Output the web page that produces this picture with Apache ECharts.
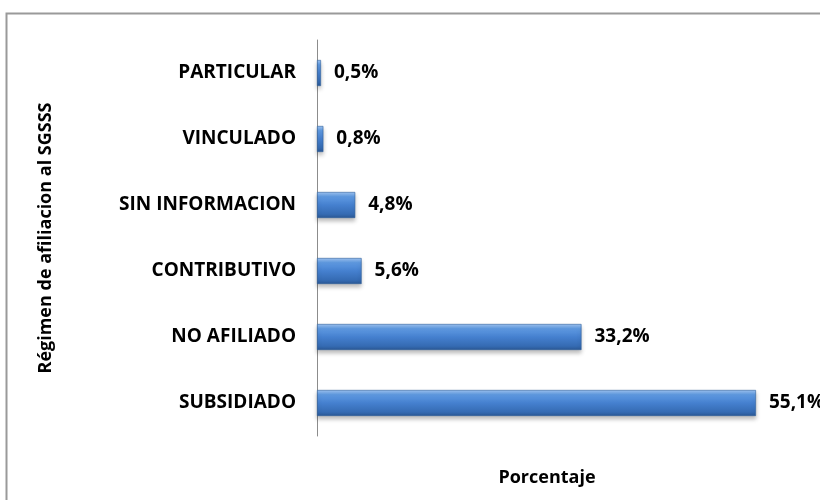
<!DOCTYPE html>
<html>
<head>
<meta charset="utf-8">
<script src="https://cdn.jsdelivr.net/npm/echarts@6/dist/echarts.min.js"></script>
<style>
  html, body { margin: 0; padding: 0; background: #fff; }
  #chart { width: 820px; height: 500px; }
</style>
</head>
<body>
<div id="chart"></div>
<script>
// categorias de abajo hacia arriba
var categorias = ['SUBSIDIADO', 'NO AFILIADO', 'CONTRIBUTIVO', 'SIN INFORMACION', 'VINCULADO', 'PARTICULAR'];
var porcentajes = [55.1, 33.2, 5.6, 4.8, 0.8, 0.5];
var nombreEjeY = 'Régimen de afiliacion al SGSSS';
var nombreEjeX = 'Porcentaje';

var fuente = '"Open Sans", "Noto Sans", sans-serif';

var chart = echarts.init(document.getElementById('chart'));
var option = {
  backgroundColor: '#fff',
  animation: false,
  graphic: [{
    type: 'rect',
    shape: { x: 6.5, y: 13.5, width: 900, height: 600 },
    style: { fill: 'none', stroke: '#9a9a9a', lineWidth: 2 },
    silent: true
  }],
  grid: { left: 317, right: 25, top: 40, bottom: 64 },
  xAxis: {
    type: 'value',
    min: 0,
    max: 60,
    axisLine: { show: false },
    axisTick: { show: false },
    axisLabel: { show: false },
    splitLine: { show: false },
    name: nombreEjeX,
    nameLocation: 'middle',
    nameGap: 33,
    nameTextStyle: { fontFamily: fuente, fontWeight: 'bold', fontSize: 18, color: '#000', padding: [0, 18, 0, 0] }
  },
  yAxis: {
    type: 'category',
    data: categorias,
    axisLine: { show: true, lineStyle: { color: '#8c8c8c', width: 1 } },
    axisTick: { show: false },
    axisLabel: { fontFamily: fuente, fontWeight: 'bold', fontSize: 19, color: '#000', margin: 21 },
    name: nombreEjeY,
    nameLocation: 'middle',
    nameGap: 262,
    nameRotate: 90,
    nameTextStyle: { fontFamily: fuente, fontWeight: 'bold', fontSize: 18, color: '#000' }
  },
  series: [{
    type: 'bar',
    data: porcentajes,
    barWidth: 26,
    itemStyle: {
      color: new echarts.graphic.LinearGradient(0, 0, 0, 1, [
        { offset: 0, color: '#9fc5f2' },
        { offset: 0.18, color: '#5f9ae2' },
        { offset: 0.5, color: '#4580cf' },
        { offset: 0.85, color: '#356bb3' },
        { offset: 1, color: '#2a5793' }
      ]),
      borderColor: '#2f5f9c',
      borderWidth: 0.6,
      shadowColor: 'rgba(0,0,0,0.25)',
      shadowBlur: 4,
      shadowOffsetY: 3
    },
    label: {
      show: true,
      position: 'right',
      distance: 13,
      fontFamily: fuente,
      fontWeight: 'bold',
      fontSize: 19,
      color: '#000',
      formatter: function (p) {
        return p.value.toFixed(1).replace('.', ',') + '%';
      }
    }
  }]
};
chart.setOption(option);
</script>
</body>
</html>
